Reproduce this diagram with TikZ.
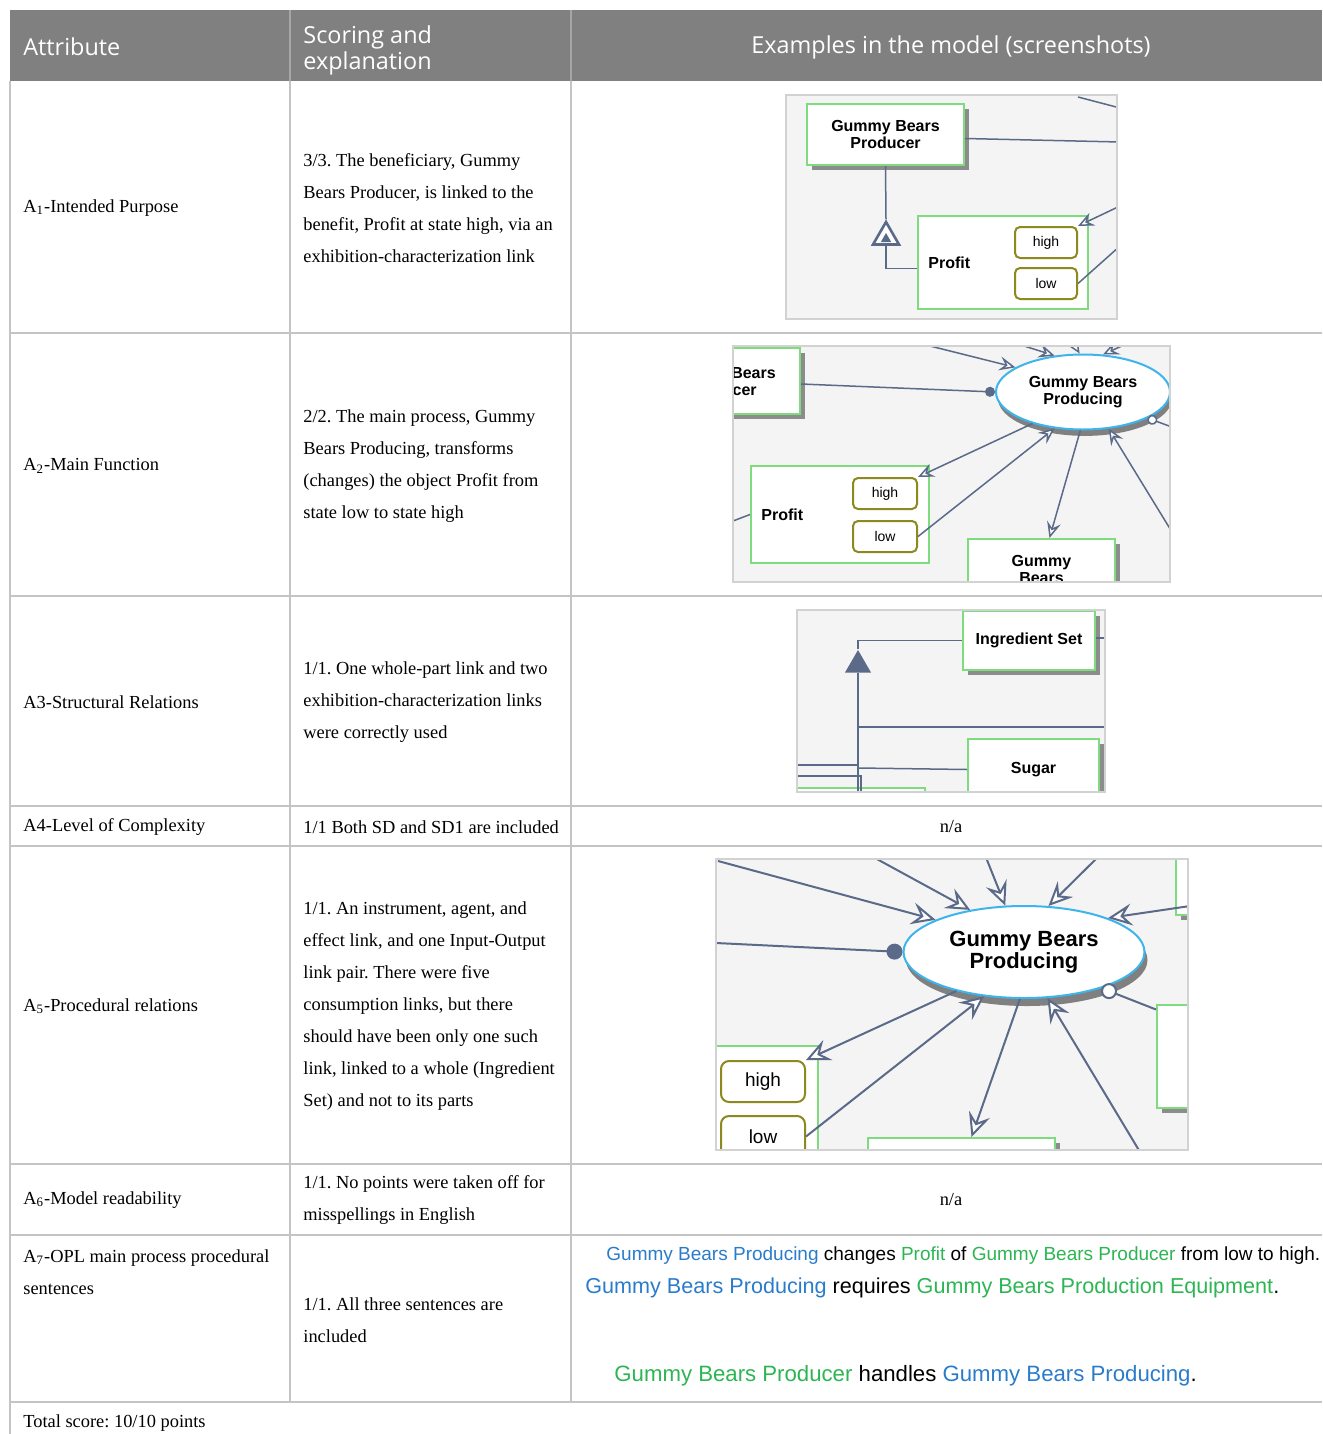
\documentclass[tikz,border=0pt]{standalone}
\usepackage{fontspec}
\setmainfont{Liberation Serif}
\newfontfamily\hdfont{Open Sans}
\newfontfamily\opmfont{Liberation Sans}
\usetikzlibrary{shapes.geometric,arrows.meta,shadows}
\frenchspacing

\definecolor{hdgray}{HTML}{808080}
\definecolor{hdrule}{HTML}{A6A6A6}
\definecolor{rulegray}{HTML}{C4C4C4}
\definecolor{shotbg}{HTML}{F4F4F4}
\definecolor{shotframe}{HTML}{D2D2D2}
\definecolor{objgreen}{HTML}{7EDC7E}
\definecolor{stolive}{HTML}{8C8A1E}
\definecolor{procblue}{HTML}{3DB4EC}
\definecolor{linkblue}{HTML}{5A6A88}
\definecolor{oplblue}{HTML}{2A7CCB}
\definecolor{oplgreen}{HTML}{2DB553}

\begin{document}
\begin{tikzpicture}[x=0.5pt,y=-0.5pt,
    cell/.style={font=\fontsize{9.2}{16}\selectfont, anchor=west, align=left, inner sep=0pt},
    head/.style={font=\hdfont\fontsize{11.7}{13}\selectfont, text=white, inner sep=0pt, align=left},
    rule/.style={draw=rulegray, line width=0.6pt},
    objplain/.style={draw=objgreen, line width=1pt, fill=white, align=center, inner sep=0pt,
      font=\opmfont\bfseries\fontsize{8}{8.5}\selectfont},
    obj/.style={objplain,
      drop shadow={shadow xshift=2.5pt, shadow yshift=-2.5pt, fill=gray!90, opacity=1}},
    state/.style={draw=stolive, line width=1pt, rounded corners=2.5pt, fill=white,
      inner sep=0pt, font=\opmfont\fontsize{7}{8}\selectfont},
    proc/.style={ellipse, draw=procblue, line width=1pt, fill=white, inner sep=0pt, align=center,
      font=\opmfont\bfseries\fontsize{8}{8.5}\selectfont,
      drop shadow={shadow xshift=1pt, shadow yshift=-3.2pt, fill=gray, opacity=1}},
    objtxt/.style={font=\opmfont\bfseries\fontsize{8}{8.5}\selectfont, anchor=west, inner sep=0pt},
    link/.style={draw=linkblue, line width=0.75pt},
    eff/.style={link, -{Stealth[fill=white, length=8pt, width=7pt, inset=3pt]}},
    agt/.style={link, -{Circle[length=5pt, fill=linkblue]}},
    ins/.style={link, -{Circle[length=5pt, fill=white]}},
    opl/.style={font=\opmfont\fontsize{9.5}{10}\selectfont, anchor=west, inner sep=0pt},
  ]
  \useasboundingbox (0,0) rectangle (1322,1434);

  % header
  \fill[hdgray] (10,10) rectangle (1322,81);
  \draw[hdrule, line width=0.6pt] (290,10) -- (290,81) (571,10) -- (571,81);
  \node[head, anchor=west] (hdatt) at (23,47) {Attribute};
  \node[head, anchor=west] (hdsc) at (303,50) {Scoring and\\explanation};
  \node[head] (hdex) at (951,47) {Examples in the model (screenshots)};

  % table rules
  \foreach \y in {333,596,806,846,1164,1235,1402}
    \draw[rule] (10,\y) -- (1322,\y);
  \draw[rule] (10,81) -- (10,1434);
  \draw[rule] (290,81) -- (290,1402) (571,81) -- (571,1402);

  % attribute column
  \node[cell] (att1) at (23,208) {A\textsubscript{1}-Intended Purpose};
  \node[cell] (att2) at (23,466) {A\textsubscript{2}-Main Function};
  \node[cell] (att3) at (23,702) {A3-Structural Relations};
  \node[cell] (att4) at (23,827) {A4-Level of Complexity};
  \node[cell] (att5) at (23,1006) {A\textsubscript{5}-Procedural relations};
  \node[cell] (att6) at (23,1200) {A\textsubscript{6}-Model readability};
  \node[cell] (att7) at (23,1272) {A\textsubscript{7}-OPL main process procedural\\sentences};
  \node[cell] (total) at (23,1423) {Total score: 10/10 points};

  % scoring column
  \node[cell] (sc1) at (303,208) {3/3. The beneficiary, Gummy\\Bears Producer, is linked to the\\benefit, Profit at state high, via an\\exhibition-characterization link};
  \node[cell] (sc2) at (303,466) {2/2. The main process, Gummy\\Bears Producing, transforms\\(changes) the object Profit from\\state low to state high};
  \node[cell] (sc3) at (303,702) {1/1. One whole-part link and two\\exhibition-characterization links\\were correctly used};
  \node[cell] (sc4) at (303,827) {1/1 Both SD and SD1 are included};
  \node[cell] (sc5) at (303,1006) {1/1. An instrument, agent, and\\effect link, and one Input-Output\\link pair. There were five\\consumption links, but there\\should have been only one such\\link, linked to a whole (Ingredient\\Set) and not to its parts};
  \node[cell] (sc6) at (303,1200) {1/1. No points were taken off for\\misspellings in English};
  \node[cell] (sc7) at (303,1320) {1/1. All three sentences are\\included};

  % n/a cells
  \node[cell, anchor=center] (ex4) at (951,827) {n/a};
  \node[cell, anchor=center] (ex6) at (951,1200) {n/a};

  % screenshot 1
  \begin{scope}
    \clip (786,95) rectangle (1117,319);
    \fill[shotbg] (786,95) rectangle (1117,319);
    \node[obj, minimum width=78.5pt, minimum height=30.5pt] (gbp1) at (885.5,134.5) {Gummy Bears\\Producer};
    \node[objplain, minimum width=85pt, minimum height=46.5pt] (profit1) at (1003,262.5) {};
    \node[objtxt] (ptxt1) at (928,263) {Profit};
    \node[state, minimum width=31pt, minimum height=15.5pt] (high1) at (1046,242.5) {high};
    \node[state, minimum width=31pt, minimum height=15.5pt] (low1) at (1046,283.5) {low};
    \node[regular polygon, regular polygon sides=3, draw=linkblue, line width=1.3pt, fill=white, minimum size=15pt, inner sep=0pt] (exh1) at (886,237) {};
    \node[regular polygon, regular polygon sides=3, fill=linkblue, minimum size=6pt, inner sep=0pt] (exhin1) at (886,239) {};
    \coordinate (r1a) at (1120,108);
    \coordinate (r1b) at (1078,97);
    \coordinate (r1c) at (1120,142);
    \coordinate (r1d) at (1120,206);
    \coordinate (r1e) at (1120,246);
    \draw[link] (r1b) -- (r1a);
    \draw[link] ([yshift=-2pt]gbp1.east) -- (r1c);
    \draw[link] (gbp1.south) -- (exh1.north);
    \draw[link] (exh1.south) |- ([yshift=-3pt]profit1.west);
    \draw[eff] (r1d) -- (high1.north east);
    \draw[link] (low1.east) -- (r1e);
  \end{scope}
  \draw[shotframe, line width=0.8pt] (786,95) rectangle (1117,319);

  % screenshot 2
  \begin{scope}
    \clip (733,346) rectangle (1170,582);
    \fill[shotbg] (733,346) rectangle (1170,582);
    \node[obj, minimum width=78.5pt, minimum height=33pt] (gbp2) at (721.5,381) {Gummy Bears\\Producer};
    \node[proc, minimum width=87pt, minimum height=37.5pt] (gbpr2) at (1083,392) {Gummy Bears\\Producing};
    \node[objplain, minimum width=89pt, minimum height=48.5pt] (profit2) at (840,514.5) {};
    \node[objtxt] (ptxt2) at (761,515) {Profit};
    \node[state, minimum width=32pt, minimum height=15.5pt] (high2) at (885,493.5) {high};
    \node[state, minimum width=32pt, minimum height=15.5pt] (low2) at (885,536.5) {low};
    \node[obj, minimum width=73.5pt, minimum height=30.5pt] (gb2) at (1041.5,569.5) {Gummy\\Bears};
    \coordinate (t2a) at (930,346);
    \coordinate (t2b) at (1005,340);
    \coordinate (t2c) at (1070,338);
    \coordinate (t2d) at (1135,340);
    \coordinate (r2a) at (1172,532);
    \coordinate (r2b) at (1180,430);
    \coordinate (l2a) at (733,521);
    \draw[agt] ([yshift=-1.5pt]gbp2.east) -- (gbpr2.west);
    \draw[eff] (t2a) -- (gbpr2.160);
    \draw[eff] (t2b) -- (gbpr2.128);
    \draw[eff] (t2c) -- (gbpr2.95);
    \draw[eff] (t2d) -- (gbpr2.62);
    \draw[ins] (r2b) -- (gbpr2.338);
    \draw[eff] (gbpr2.212) -- (high2.north east);
    \draw[eff] (low2.east) -- (gbpr2.232);
    \draw[eff] (gbpr2.266) -- ([xshift=4pt]gb2.north);
    \draw[eff] (r2a) -- (gbpr2.305);
    \draw[link] (l2a) -- (profit2.west);
  \end{scope}
  \draw[shotframe, line width=0.8pt] (733,346) rectangle (1170,582);

  % screenshot 3
  \begin{scope}
    \clip (797,610) rectangle (1105,792);
    \fill[shotbg] (797,610) rectangle (1105,792);
    \node[obj, minimum width=66pt, minimum height=29.5pt] (ing3) at (1029,640.5) {Ingredient Set};
    \node[obj, minimum width=65.5pt, minimum height=30.5pt] (sugar3) at (1033.5,769.5) {Sugar};
    \node[obj, minimum width=64pt, minimum height=20pt] (bot3) at (861,808) {};
    \node[regular polygon, regular polygon sides=3, fill=linkblue, minimum size=15pt, inner sep=0pt] (agg3) at (858,665) {};
    \coordinate (v3a) at (858,727);
    \coordinate (v3b) at (858,768);
    \coordinate (v3c) at (858,800);
    \coordinate (r3a) at (1110,727);
    \coordinate (r3b) at (1110,638);
    \coordinate (l3a) at (790,765);
    \coordinate (l3b) at (790,776);
    \coordinate (l3c) at (861,800);
    \draw[link] (ing3.west) -| (agg3.north);
    \draw[link] (agg3.south) -- (v3c);
    \draw[link] (v3a) -- (r3a);
    \draw[link] (v3b) -- (sugar3.west);
    \draw[link] (ing3.east |- r3b) -- (r3b);
    \draw[link] (l3a) -- (v3b |- l3a);
    \draw[link] (l3b) -| (l3c);
  \end{scope}
  \draw[shotframe, line width=0.8pt] (797,610) rectangle (1105,792);

  % screenshot 4
  \begin{scope}[link/.append style={line width=1pt},
      eff/.style={link, -{Stealth[fill=white, length=12pt, width=11pt, inset=4.5pt]}},
      agt/.style={link, -{Circle[length=8pt, fill=linkblue]}},
      ins/.style={link, -{Circle[length=8pt, fill=white]}}]
    \clip (716,859) rectangle (1188,1150);
    \fill[shotbg] (716,859) rectangle (1188,1150);
    \node[proc, minimum width=120.5pt, minimum height=46pt, font=\opmfont\bfseries\fontsize{11}{11}\selectfont,
      drop shadow={shadow xshift=1.5pt, shadow yshift=-4pt, fill=gray, opacity=1}] (gbpr4) at (1024,952) {Gummy Bears\\Producing};
    \node[objplain, minimum width=79pt, minimum height=64pt] (profit4) at (739,1110) {};
    \node[state, minimum width=42pt, minimum height=20.5pt, rounded corners=4pt, font=\opmfont\fontsize{9.5}{10}\selectfont] (high4) at (763,1081.5) {high};
    \node[state, minimum width=42pt, minimum height=20.5pt, rounded corners=4pt, font=\opmfont\fontsize{9.5}{10}\selectfont] (low4) at (763,1136.5) {low};
    \node[obj, minimum width=93.5pt, minimum height=31pt] (bb4) at (961.5,1169) {};
    \node[obj, minimum width=33pt, minimum height=51.5pt] (rb4) at (1190,1056) {};
    \node[obj, minimum width=32pt, minimum height=42pt] (tr4) at (1208,873) {};
    \coordinate (t4a) at (718,861);
    \coordinate (t4b) at (875,858);
    \coordinate (t4c) at (985,855);
    \coordinate (t4d) at (1100,855);
    \coordinate (t4e) at (1190,906);
    \coordinate (l4a) at (716,943);
    \coordinate (r4a) at (1140,1152);
    \draw[agt] (l4a) -- (gbpr4.west);
    \draw[eff] (t4a) -- (gbpr4.160);
    \draw[eff] (t4b) -- (gbpr4.142);
    \draw[eff] (t4c) -- (gbpr4.112);
    \draw[eff] (t4d) -- (gbpr4.62);
    \draw[eff] (t4e) -- (gbpr4.22);
    \draw[ins] ([yshift=-3pt]rb4.north west) -- (gbpr4.335);
    \draw[eff] (gbpr4.210) -- (high4.north east);
    \draw[eff] (low4.east) -- (gbpr4.228);
    \draw[eff] (gbpr4.265) -- ([xshift=5pt]bb4.north);
    \draw[eff] (r4a) -- (gbpr4.297);
  \end{scope}
  \draw[shotframe, line width=0.8pt] (716,859) rectangle (1188,1150);

  % OPL sentences
  \node[opl] (opl1) at (606,1256) {\textcolor{oplblue}{Gummy Bears Producing} changes \textcolor{oplgreen}{Profit} of \textcolor{oplgreen}{Gummy Bears Producer} from low to high.};
  \node[opl, font=\opmfont\fontsize{10.8}{12}\selectfont] (opl2) at (585,1288) {\textcolor{oplblue}{Gummy Bears Producing} requires \textcolor{oplgreen}{Gummy Bears Production Equipment}.};
  \node[opl, font=\opmfont\fontsize{11.1}{12}\selectfont] (opl3) at (614,1376) {\textcolor{oplgreen}{Gummy Bears Producer} handles \textcolor{oplblue}{Gummy Bears Producing}.};
\end{tikzpicture}
\end{document}
